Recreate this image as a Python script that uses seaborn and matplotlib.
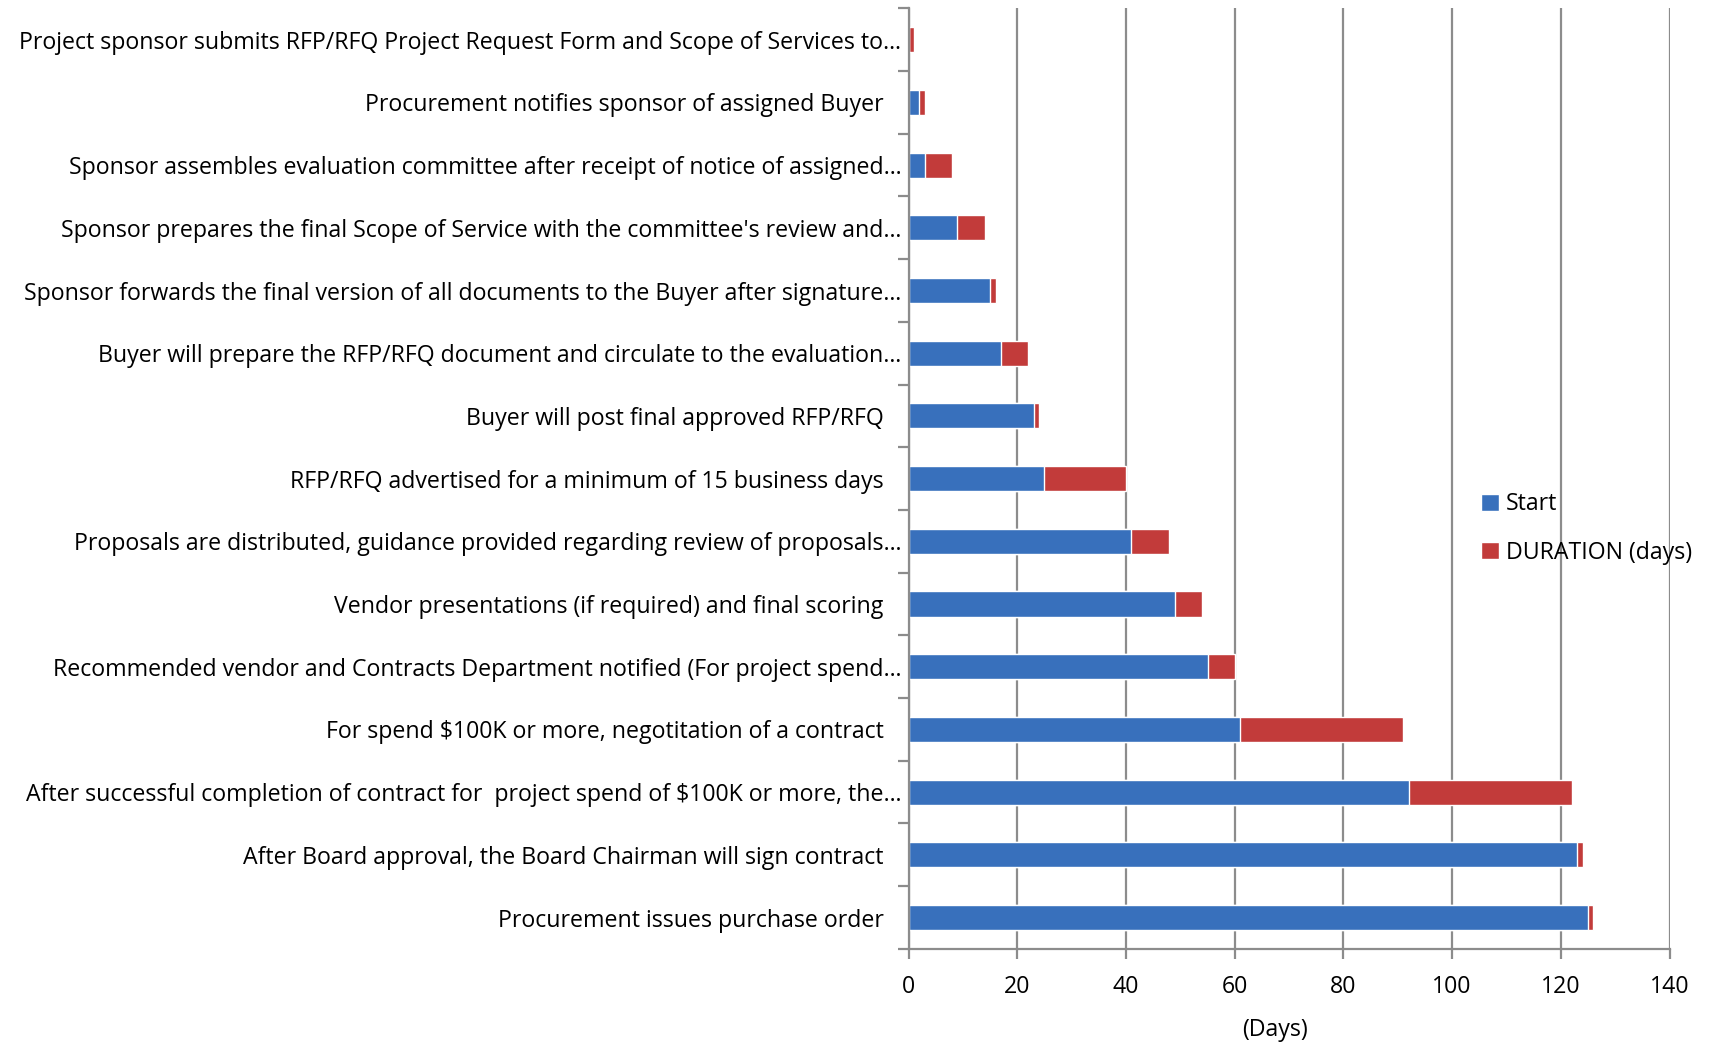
import matplotlib
matplotlib.use("Agg")
import matplotlib.pyplot as plt
import seaborn as sns
import pandas as pd
from matplotlib.patches import Patch
from matplotlib.ticker import FixedLocator

tasks = [
    "Project sponsor submits RFP/RFQ Project Request Form and Scope of Services to…",
    "Procurement notifies sponsor of assigned Buyer   ",
    "Sponsor assembles evaluation committee after receipt of notice of assigned…",
    "Sponsor prepares the final Scope of Service with the committee's review and…",
    "Sponsor forwards the final version of all documents to the Buyer after signature…",
    "Buyer will prepare the RFP/RFQ document and circulate to the evaluation…",
    "Buyer will post final approved RFP/RFQ   ",
    "RFP/RFQ advertised for a minimum of 15 business days   ",
    "Proposals are distributed, guidance provided regarding review of proposals…",
    "Vendor presentations (if required) and final scoring   ",
    "Recommended vendor and Contracts Department notified (For project spend…",
    "For spend \\$100K or more, negotitation of a contract   ",
    "After successful completion of contract for  project spend of \\$100K or more, the…",
    "After Board approval, the Board Chairman will sign contract   ",
    "Procurement issues purchase order   ",
]
start = [0, 2, 3, 9, 15, 17, 23, 25, 41, 49, 55, 61, 92, 123, 125]
duration = [1, 1, 5, 5, 1, 5, 1, 15, 7, 5, 5, 30, 30, 1, 1]

blue = "#3870BC"
red = "#C23B3A"

df = pd.DataFrame({"task": tasks, "start": start, "duration": duration})
df["end"] = df["start"] + df["duration"]

sns.set_style("white")
plt.rcParams["font.family"] = ["Open Sans", "DejaVu Sans"]
plt.rcParams["text.color"] = "black"
plt.rcParams["xtick.color"] = "black"
plt.rcParams["ytick.color"] = "black"
plt.rcParams["axes.labelcolor"] = "black"

fs = 16.7

fig = plt.figure(figsize=(17.12, 10.45), dpi=100)
ax = fig.add_axes([0.5307, 0.092, 0.4445, 0.9])

sns.barplot(data=df, x="end", y="task", color=red, saturation=1, width=0.4, ax=ax, orient="h")
sns.barplot(data=df, x="start", y="task", color=blue, saturation=1, width=0.4, ax=ax, orient="h")

ax.set_xlim(0, 140)
ax.set_ylim(14.5, -0.5)
ax.set_xticks(range(0, 141, 20))
ax.xaxis.grid(True, color="#8C8C8C", linewidth=1.6)
ax.yaxis.grid(False)
ax.set_axisbelow(True)

for s in ["top", "right"]:
    ax.spines[s].set_visible(False)
for s in ["left", "bottom"]:
    ax.spines[s].set_visible(True)
    ax.spines[s].set_color("#8C8C8C")
    ax.spines[s].set_linewidth(1.6)

ax.tick_params(axis="y", which="major", length=0, labelsize=fs, pad=5, labelcolor="black")
ax.yaxis.set_minor_locator(FixedLocator([i + 0.5 for i in range(-1, 15)]))
ax.tick_params(axis="y", which="minor", length=8, width=1.6, color="#8C8C8C", left=True)
ax.tick_params(axis="x", which="major", length=7, width=1.6, color="#8C8C8C", labelsize=fs,
               pad=12, bottom=True, labelcolor="black")

ax.set_ylabel("")
ax.set_xlabel("(Days)", fontsize=fs)
ax.xaxis.set_label_coords(0.481, -0.086)
ax.xaxis.label.set_va("center")

handles = [Patch(facecolor=blue, label="Start"), Patch(facecolor=red, label="DURATION (days)")]
ax.legend(handles=handles, loc="center left", bbox_to_anchor=(0.725, 0.447), frameon=False,
          fontsize=fs, handlelength=0.75, handleheight=0.75, handletextpad=0.3, labelspacing=1.05)

fig.savefig("out.png", dpi=100)
